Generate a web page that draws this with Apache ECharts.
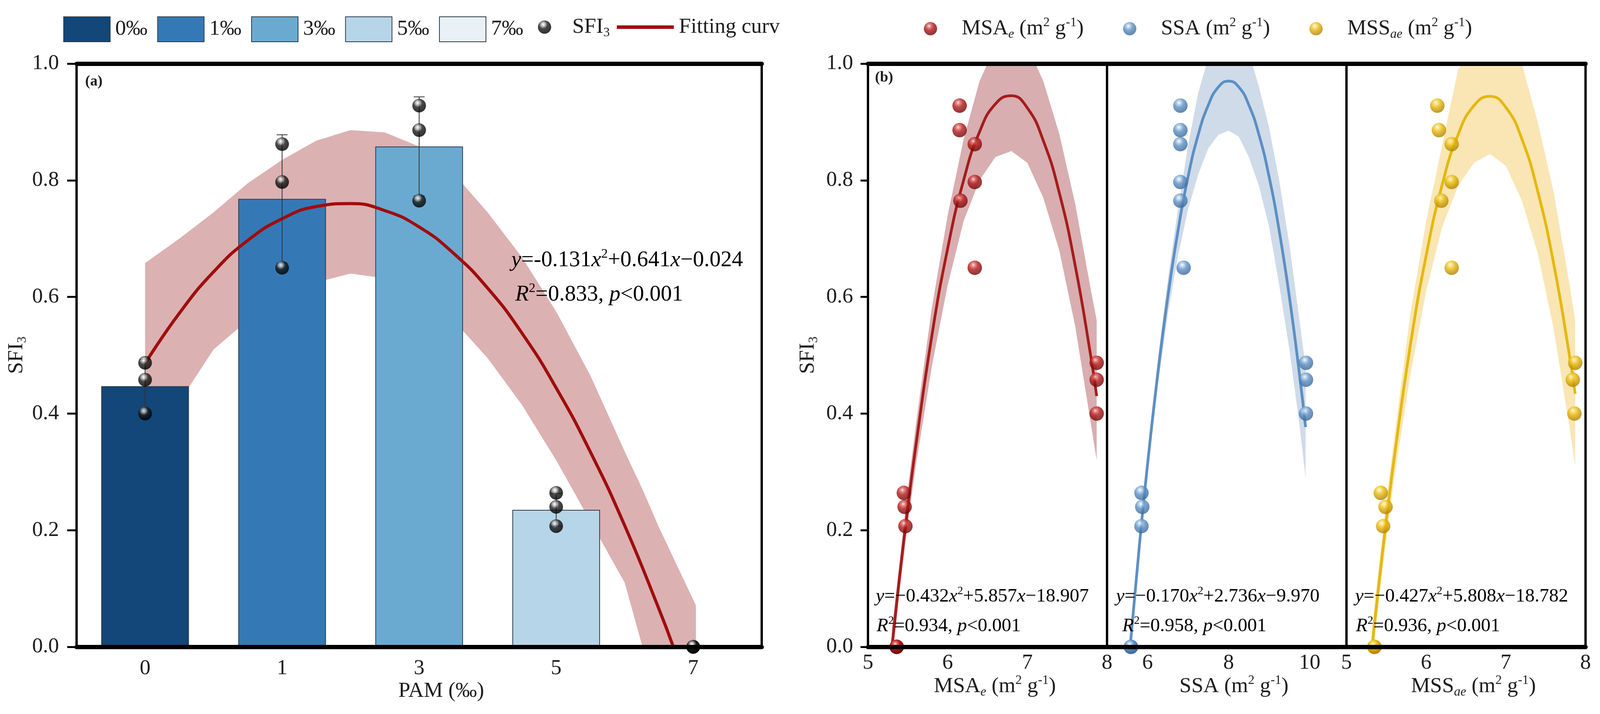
<!DOCTYPE html>
<html lang="en">
<head>
<meta charset="UTF-8">
<title>SFI3 - PAM</title>
<script src="https://cdn.jsdelivr.net/npm/echarts@6/dist/echarts.min.js"></script>
<style>
    html, body { margin: 0; padding: 0; background: #ffffff; overflow: hidden; }
    #chart { width: 100vw; height: 1829px; }
</style>
</head>
<body>
<div id="chart"></div>
<script>
    // values
    var pamLevels = ['0', '1', '3', '5', '7'];
    var pamNames = ['0‰', '1‰', '3‰', '5‰', '7‰'];
    var sfiMean = [0.447, 0.768, 0.858, 0.235, 0];
    var sfiSd = [0.046, 0.110, 0.085, 0.028, 0];
    var sfiObs = [[0.487, 0.458, 0.400], [0.862, 0.797, 0.650], [0.928, 0.886, 0.765], [0.264, 0.240, 0.207], [0, 0, 0]];

    // fitted curve (a), x = position on the PAM axis (0 = first bar)
    var fitPos = [0, 0.25, 0.5, 0.75, 1, 1.25, 1.5, 1.75, 2, 2.25, 2.5, 2.75, 3, 3.25, 3.5, 3.75, 3.855];
    var fitVal = [0.486, 0.572, 0.643, 0.697, 0.734, 0.755, 0.760, 0.748, 0.720, 0.675, 0.615, 0.538, 0.444, 0.334, 0.208, 0.065, 0];
    var bandPos = [0, 0.25, 0.5, 0.75, 1, 1.25, 1.5, 1.75, 2, 2.25, 2.5, 2.75, 3, 3.25, 3.5, 3.63, 3.75, 4.02];
    var bandHigh = [0.658, 0.700, 0.745, 0.795, 0.835, 0.868, 0.886, 0.882, 0.858, 0.812, 0.745, 0.668, 0.575, 0.465, 0.335, 0.270, 0.205, 0.071];
    var bandLow = [0.330, 0.420, 0.510, 0.560, 0.595, 0.625, 0.640, 0.632, 0.605, 0.560, 0.495, 0.415, 0.320, 0.215, 0.110, 0, 0, 0];

    // (b) x values of the same observations
    var msaObs = [[7.87, 7.87, 7.87], [6.34, 6.34, 6.34], [6.15, 6.15, 6.16], [5.45, 5.46, 5.47], [5.36, 5.36, 5.36]];
    var ssaObs = [[9.91, 9.91, 9.91], [6.81, 6.81, 6.89], [6.81, 6.81, 6.81], [5.85, 5.87, 5.85], [5.59, 5.59, 5.59]];
    var mssObs = [[7.87, 7.84, 7.86], [6.32, 6.32, 6.32], [6.14, 6.16, 6.19], [5.43, 5.49, 5.46], [5.35, 5.35, 5.35]];

    var msaFitX = [5.30, 5.4, 5.5, 5.6, 5.8, 6.0, 6.2, 6.4, 6.6, 6.8, 7.0, 7.2, 7.4, 7.6, 7.8, 7.87];
    var msaFitY = [0, 0.124, 0.239, 0.344, 0.532, 0.683, 0.800, 0.883, 0.931, 0.945, 0.924, 0.868, 0.779, 0.654, 0.495, 0.430];
    var msaHigh = [0.03, 0.15, 0.27, 0.38, 0.58, 0.74, 0.87, 0.97, 1.03, 1.05, 1.03, 0.97, 0.88, 0.76, 0.61, 0.56];
    var msaLow = [-0.03, 0.10, 0.21, 0.31, 0.48, 0.62, 0.73, 0.80, 0.84, 0.85, 0.83, 0.77, 0.68, 0.55, 0.38, 0.32];

    var ssaFitX = [5.57, 5.8, 6.0, 6.25, 6.5, 6.75, 7.0, 7.25, 7.5, 7.75, 8.0, 8.25, 8.5, 8.75, 9.0, 9.25, 9.5, 9.75, 9.9];
    var ssaFitY = [0, 0.175, 0.313, 0.467, 0.600, 0.713, 0.806, 0.878, 0.929, 0.960, 0.970, 0.960, 0.929, 0.878, 0.806, 0.713, 0.600, 0.467, 0.377];
    var ssaHigh = [0.01, 0.19, 0.33, 0.49, 0.63, 0.75, 0.86, 0.95, 1.01, 1.05, 1.06, 1.05, 1.02, 0.96, 0.89, 0.80, 0.69, 0.56, 0.48];
    var ssaLow = [-0.01, 0.16, 0.295, 0.445, 0.57, 0.67, 0.75, 0.81, 0.855, 0.878, 0.885, 0.875, 0.84, 0.79, 0.72, 0.62, 0.51, 0.38, 0.29];

    var mssFitX = [5.32, 5.4, 5.5, 5.6, 5.8, 6.0, 6.2, 6.4, 6.6, 6.8, 7.0, 7.2, 7.4, 7.6, 7.8, 7.87];
    var mssFitY = [0, 0.100, 0.217, 0.325, 0.516, 0.671, 0.792, 0.878, 0.928, 0.944, 0.925, 0.871, 0.781, 0.657, 0.498, 0.434];
    var mssHigh = [0.03, 0.13, 0.25, 0.36, 0.57, 0.73, 0.86, 0.99, 1.03, 1.05, 1.04, 1.00, 0.90, 0.78, 0.62, 0.56];
    var mssLow = [-0.03, 0.07, 0.185, 0.29, 0.465, 0.61, 0.72, 0.79, 0.83, 0.845, 0.825, 0.765, 0.675, 0.545, 0.375, 0.31];

    // styles
    var serif = 'Liberation Serif';
    var ink = '#1e1e1e';
    var barColors = ['#134679', '#3479b6', '#6aaad1', '#b6d5e8', '#e9f1f7'];

    var chart = echarts.init(document.getElementById('chart'));
    // layout was measured on a 4347 px wide figure; squeeze it to the real width
    var SX = chart.getWidth() / 4347;
    function px(v) { return Math.round(v * SX); }

    function richSet(size, pad) {
        size = px(size);
        var small = Math.round(size * 0.6);
        var lh = Math.round(size * 1.15);
        return {
            n: {fontFamily: serif, fontSize: size, color: ink, lineHeight: lh},
            np: {fontFamily: serif, fontSize: size, color: ink, lineHeight: lh, padding: [0, 0, 0, px(pad || 0)]},
            i: {fontFamily: serif, fontSize: size, color: ink, lineHeight: lh, fontStyle: 'italic'},
            sup: {fontFamily: serif, fontSize: small, color: ink, lineHeight: small, verticalAlign: 'top'},
            sub: {fontFamily: serif, fontSize: small, color: ink, lineHeight: small, verticalAlign: 'bottom'},
            subi: {fontFamily: serif, fontSize: small, color: ink, lineHeight: small, verticalAlign: 'bottom', fontStyle: 'italic'}
        };
    }

    function ball(c0, c1, c2, c3) {
        return {
            type: 'radial', x: 0.4, y: 0.3, r: 0.65,
            colorStops: [
                {offset: 0, color: c0}, {offset: 0.2, color: c1},
                {offset: 0.5, color: c2}, {offset: 1, color: c3}
            ]
        };
    }

    function bandRender(xs, hi, lo, fill) {
        return function (params, api) {
            var pts = [];
            for (var i = 0; i < xs.length; i++) pts.push(api.coord([xs[i], hi[i]]));
            for (var j = xs.length - 1; j >= 0; j--) pts.push(api.coord([xs[j], lo[j]]));
            return {type: 'polygon', shape: {points: pts}, style: {fill: fill}};
        };
    }

    function pairs(xs, ys) {
        return xs.map(function (x, i) { return [x, ys[i]]; });
    }

    function obsPairs(xGroups) {
        var out = [];
        xGroups.forEach(function (g, k) {
            g.forEach(function (x, j) { out.push([x, sfiObs[k][j]]); });
        });
        return out;
    }

    function huitu() {
        var r58 = richSet(58);
        var labelStyle = {fontFamily: serif, fontSize: px(58), color: ink};
        var border = function (w) { return {show: true, onZero: false, lineStyle: {color: '#000', width: w}}; };

        var grids = [
            {left: px(208), top: 163, width: px(1861), height: 1494},
            {left: px(2358), top: 163, width: px(650), height: 1494},
            {left: px(3008), top: 163, width: px(650), height: 1494},
            {left: px(3658), top: 163, width: px(650), height: 1494}
        ];

        var xAxes = [
            {
                type: 'category', gridIndex: 0, position: 'bottom', data: pamLevels, z: 6,
                axisLine: border(11), axisTick: {show: false},
                axisLabel: Object.assign({margin: 28}, labelStyle),
                name: 'PAM (‰)', nameLocation: 'middle', nameGap: 86, nameMoveOverlap: false,
                nameTextStyle: {fontFamily: serif, fontSize: px(58), color: ink, padding: [0, 0, 0, px(120)]}
            },
            {
                type: 'value', gridIndex: 0, position: 'top', min: -0.5, max: 4.5, z: 6,
                axisLine: border(11), axisTick: {show: false}, axisLabel: {show: false}, splitLine: {show: false}
            }
        ];
        var bNames = [
            '{n|MSA}{subi|e}{n| (m}{sup|2}{n| g}{sup|-1}{n|)}',
            '{n|SSA (m}{sup|2}{n| g}{sup|-1}{n|)}',
            '{n|MSS}{subi|ae}{n| (m}{sup|2}{n| g}{sup|-1}{n|)}'
        ];
        var bRanges = [[5, 8], [5, 10.9], [5, 8]];
        for (var g = 0; g < 3; g++) {
            xAxes.push({
                type: 'value', gridIndex: g + 1, position: 'bottom', min: bRanges[g][0], max: bRanges[g][1], interval: 1, z: 6,
                axisLine: border(11), axisTick: {show: false}, splitLine: {show: false},
                axisLabel: Object.assign({
                    margin: 14, showMinLabel: true, showMaxLabel: true,
                    formatter: g === 1 ? function (v) { return (v === 6 || v === 8 || v === 10) ? String(v) : ''; } : '{value}'
                }, labelStyle),
                name: bNames[g], nameLocation: 'middle', nameGap: 70, nameMoveOverlap: false,
                nameTextStyle: {rich: r58, padding: [0, 0, 0, px(40)]}
            });
        }
        for (var t = 0; t < 3; t++) {
            xAxes.push({
                type: 'value', gridIndex: t + 1, position: 'top', min: bRanges[t][0], max: bRanges[t][1], z: 6,
                axisLine: border(11), axisTick: {show: false}, axisLabel: {show: false}, splitLine: {show: false}
            });
        }

        function sfiAxis(gi, withLabels, tickLen, margin) {
            return {
                type: 'value', gridIndex: gi, position: 'left', min: 0, max: 1, interval: 0.2, z: 6,
                axisLine: border(6), splitLine: {show: false},
                axisTick: {show: withLabels, length: px(tickLen), lineStyle: {color: '#000', width: 5}},
                axisLabel: Object.assign({show: withLabels, margin: px(margin), formatter: function (v) { return v.toFixed(1); }}, labelStyle),
                name: withLabels ? '{n|SFI}{sub|3}' : '', nameLocation: 'middle', nameGap: px(130), nameMoveOverlap: false,
                nameTextStyle: {rich: r58}
            };
        }
        var yAxes = [
            sfiAxis(0, true, 26, 48),
            {type: 'value', gridIndex: 0, position: 'right', min: 0, max: 1, z: 6, axisLine: border(6),
                axisTick: {show: false}, axisLabel: {show: false}, splitLine: {show: false}},
            sfiAxis(1, true, 20, 40),
            sfiAxis(2, false, 0, 0),
            sfiAxis(3, false, 0, 0),
            {type: 'value', gridIndex: 3, position: 'right', min: 0, max: 1, z: 6, axisLine: border(6),
                axisTick: {show: false}, axisLabel: {show: false}, splitLine: {show: false}}
        ];

        var series = [];
        // (a) confidence band under the bars
        series.push({
            name: 'bandA', type: 'custom', xAxisIndex: 1, yAxisIndex: 0, z: 1, clip: true, silent: true,
            renderItem: bandRender(bandPos, bandHigh, bandLow, '#dcb1b2'), data: [[bandPos[0], bandLow[0]]]
        });
        pamNames.forEach(function (name, k) {
            series.push({
                name: name, type: 'bar', xAxisIndex: 0, yAxisIndex: 0, barWidth: '64%', barGap: '-100%', z: 2,
                itemStyle: {color: barColors[k], borderColor: '#2e3c4b', borderWidth: 2},
                data: pamLevels.map(function (c, j) { return j === k ? sfiMean[k] : '-'; })
            });
        });
        series.push({
            name: 'Fitting curv', type: 'line', xAxisIndex: 1, yAxisIndex: 0, smooth: true, symbol: 'none', z: 3,
            color: '#a00d0d', itemStyle: {color: '#a00d0d'}, lineStyle: {color: '#a00d0d', width: 8},
            data: pairs(fitPos, fitVal)
        });
        series.push({
            name: 'errA', type: 'custom', xAxisIndex: 0, yAxisIndex: 0, z: 4, silent: true,
            data: sfiMean.map(function (m, k) { return [k, m, sfiSd[k]]; }),
            renderItem: function (params, api) {
                var k = api.value(0), m = api.value(1), s = api.value(2);
                if (!s) return;
                var top = api.coord([k, m + s]), bot = api.coord([k, m - s]);
                var st = {stroke: '#333333', lineWidth: 2};
                var hw = px(15);
                return {type: 'group', children: [
                    {type: 'line', shape: {x1: top[0], y1: top[1], x2: bot[0], y2: bot[1]}, style: st},
                    {type: 'line', shape: {x1: top[0] - hw, y1: top[1], x2: top[0] + hw, y2: top[1]}, style: st},
                    {type: 'line', shape: {x1: bot[0] - hw, y1: bot[1], x2: bot[0] + hw, y2: bot[1]}, style: st}
                ]};
            }
        });
        var ptsA = [];
        sfiObs.forEach(function (grp, k) { grp.forEach(function (v) { ptsA.push([k, v]); }); });
        series.push({
            name: 'SFI3', type: 'scatter', xAxisIndex: 0, yAxisIndex: 0, symbolSize: 35, z: 5,
            itemStyle: {color: ball('#ffffff', '#bdbdbd', '#1a1a1a', '#000000')},
            data: ptsA
        });

        // (b)
        var bSets = [
            {name: 'MSAe', obs: msaObs, fx: msaFitX, fy: msaFitY, hi: msaHigh, lo: msaLow,
                band: '#d8aeb0', line: '#a51c1c', ball: ball('#ffe6e6', '#e06a6a', '#b01818', '#760606')},
            {name: 'SSA', obs: ssaObs, fx: ssaFitX, fy: ssaFitY, hi: ssaHigh, lo: ssaLow,
                band: '#cfdbe9', line: '#5c8fc3', ball: ball('#ffffff', '#b0cce8', '#5b8fc4', '#3e6c9c')},
            {name: 'MSSae', obs: mssObs, fx: mssFitX, fy: mssFitY, hi: mssHigh, lo: mssLow,
                band: '#f9e6b4', line: '#e5b80b', ball: ball('#fffbe6', '#f8dc6a', '#e5b50a', '#b38600')}
        ];
        bSets.forEach(function (s, g) {
            series.push({
                name: s.name + 'Band', type: 'custom', xAxisIndex: 2 + g, yAxisIndex: 2 + g, z: 1, clip: true, silent: true,
                renderItem: bandRender(s.fx, s.hi, s.lo, s.band), data: [[s.fx[0], 0]]
            });
            series.push({
                name: s.name + 'Fit', type: 'line', xAxisIndex: 2 + g, yAxisIndex: 2 + g, smooth: true, symbol: 'none', z: 2,
                lineStyle: {color: s.line, width: 7}, data: pairs(s.fx, s.fy)
            });
            series.push({
                name: s.name, type: 'scatter', xAxisIndex: 2 + g, yAxisIndex: 2 + g, symbolSize: 37, z: 3,
                itemStyle: {color: s.ball}, data: obsPairs(s.obs)
            });
        });

        var legendNames = {
            'MSAe': '{np|MSA}{subi|e}{n| (m}{sup|2}{n| g}{sup|-1}{n|)}',
            'SSA': '{np|SSA (m}{sup|2}{n| g}{sup|-1}{n|)}',
            'MSSae': '{np|MSS}{subi|ae}{n| (m}{sup|2}{n| g}{sup|-1}{n|)}'
        };
        function legendB(name, left) {
            return {
                left: px(left), top: 37, itemWidth: 34, itemHeight: 34, icon: 'circle', selectedMode: false,
                data: [name], textStyle: {rich: richSet(58, 62)},
                formatter: function (n) { return legendNames[n]; }
            };
        }

        function note(x, y, size, text) {
            return {type: 'text', x: px(x), y: y, z: 10, style: {rich: richSet(size), text: text}};
        }

        var option = {
            backgroundColor: '#ffffff',
            animation: false,
            textStyle: {fontFamily: serif},
            grid: grids,
            xAxis: xAxes,
            yAxis: yAxes,
            legend: [
                {left: px(167), top: 37, itemWidth: px(126), itemHeight: 64, itemGap: px(27), icon: 'rect', selectedMode: false,
                    data: pamNames, textStyle: {rich: richSet(58, 8)}, formatter: '{np|{name}}'},
                {left: px(1456), top: 37, itemWidth: 34, itemHeight: 34, icon: 'circle', selectedMode: false,
                    data: ['SFI3'], textStyle: {rich: richSet(58, 52)}, formatter: '{np|SFI}{sub|3}'},
                {left: px(1670), top: 37, itemWidth: px(155), itemHeight: 9, icon: 'rect', selectedMode: false,
                    data: ['Fitting curv'], textStyle: {rich: richSet(58, 8)}, formatter: '{np|{name}}'},
                legendB('MSAe', 2505),
                legendB('SSA', 3046),
                legendB('MSSae', 3552)
            ],
            graphic: [
                {type: 'text', x: px(231), y: 190, z: 10, style: {text: '(a)', fontFamily: serif, fontSize: 38, fontWeight: 'bold', fill: ink}},
                {type: 'text', x: px(2377), y: 180, z: 10, style: {text: '(b)', fontFamily: serif, fontSize: 38, fontWeight: 'bold', fill: ink}},
                note(1389, 634, 60, '{i|y}{n|=-0.131}{i|x}{sup|2}{n|+0.641}{i|x}{n|−0.024}'),
                note(1400, 722, 60, '{i|R}{sup|2}{n|=0.833, }{i|p}{n|<0.001}'),
                note(2379, 1500, 52, '{i|y}{n|=−0.432}{i|x}{sup|2}{n|+5.857}{i|x}{n|−18.907}'),
                note(2381, 1576, 52, '{i|R}{sup|2}{n|=0.934, }{i|p}{n|<0.001}'),
                note(3032, 1500, 52, '{i|y}{n|=−0.170}{i|x}{sup|2}{n|+2.736}{i|x}{n|−9.970}'),
                note(3049, 1576, 52, '{i|R}{sup|2}{n|=0.958, }{i|p}{n|<0.001}'),
                note(3682, 1500, 52, '{i|y}{n|=−0.427}{i|x}{sup|2}{n|+5.808}{i|x}{n|−18.782}'),
                note(3684, 1576, 52, '{i|R}{sup|2}{n|=0.936, }{i|p}{n|<0.001}')
            ],
            series: series
        };
        chart.setOption(option);
    }

    huitu();
</script>
</body>
</html>
